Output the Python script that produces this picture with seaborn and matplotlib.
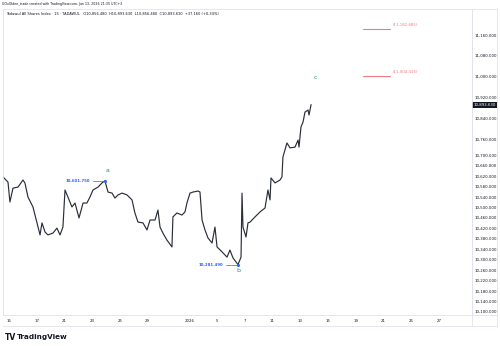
import matplotlib
matplotlib.use("Agg")
import matplotlib.pyplot as plt
import matplotlib.transforms as mtransforms
from matplotlib.lines import Line2D
import seaborn as sns
import pandas as pd

# trading-day index (0 = Dec 15 session start) and 15m close
days = [-0.43, -0.07, 0.07, 0.29, 0.65, 1.01, 1.15, 1.37, 1.73, 2.02, 2.24, 2.38,
        2.60, 2.81, 3.17, 3.46, 3.68, 3.89, 4.04, 4.25, 4.54, 4.76, 5.05, 5.34,
        5.62, 5.84, 6.06, 6.42, 6.71, 6.92, 7.14, 7.43, 7.64, 7.86, 8.15, 8.51,
        8.87, 9.08, 9.30, 9.66, 9.95, 10.17, 10.53, 10.74, 10.89, 11.10, 11.39,
        11.75, 11.82, 12.11, 12.47, 12.69, 12.83, 13.05, 13.27, 13.63, 13.77,
        13.92, 14.13, 14.35, 14.64, 14.85, 15.00, 15.36, 15.72, 15.93, 16.15,
        16.51, 16.73, 16.80, 16.87, 17.09, 17.23, 17.38, 17.74, 18.10, 18.46,
        18.67, 18.82, 18.89, 19.18, 19.54, 19.68, 19.75, 20.04, 20.26, 20.62,
        20.84, 20.91, 21.05, 21.20, 21.34, 21.56, 21.63, 21.78]
closes = [10617, 10597, 10521, 10574, 10578, 10605, 10594, 10540, 10502, 10441,
          10395, 10441, 10406, 10395, 10402, 10421, 10395, 10425, 10567, 10540,
          10502, 10517, 10460, 10517, 10517, 10540, 10567, 10578, 10594, 10601.75,
          10559, 10555, 10536, 10548, 10555, 10548, 10529, 10479, 10444, 10441,
          10414, 10452, 10452, 10490, 10425, 10402, 10375, 10349, 10464, 10479,
          10471, 10483, 10517, 10555, 10559, 10563, 10559, 10452, 10414, 10383,
          10364, 10425, 10349, 10330, 10310, 10337, 10307, 10281.49, 10310, 10555,
          10425, 10387, 10441, 10444, 10464, 10483, 10498, 10567, 10529, 10613,
          10594, 10605, 10617, 10693, 10747, 10728, 10731, 10758, 10731, 10808,
          10827, 10865, 10873, 10854, 10893.63]

date_ticks = [0, 2, 4, 6, 8, 10, 13, 15, 17, 19, 21, 23, 25, 27, 29, 31]
date_labels = ["15", "17", "21", "23", "25", "29", "2026", "5", "7", "11", "13",
               "15", "19", "21", "25", "27"]
price_ticks = [11160, 11080, 11000, 10920, 10840, 10760, 10700, 10660, 10620,
               10580, 10540, 10500, 10460, 10420, 10380, 10340, 10300, 10260,
               10220, 10180, 10140, 10100]

wave_names = ["a", "b", "c"]
wave_days = [7.14, 16.51, 22.06]
wave_text_prices = [10640, 10257, 10996]
pivot_days = [6.92, 16.51]
pivot_prices = [10601.75, 10281.49]
target_prices = [11182.685, 11004.415]
target_start, target_end = 25.5, 27.47
last_price = 10893.63

W, H = 500, 346
sns.set_theme(style="white")
plt.rcParams["font.family"] = ["DejaVu Sans"]

fig = plt.figure(figsize=(W / 100, H / 100), dpi=100)
fig.patch.set_facecolor("white")
L, R, T, B = 3, 472, 9, 315
ax = fig.add_axes([L / W, 1 - B / H, (R - L) / W, (B - T) / H])

df = pd.DataFrame({"day": days, "close": closes})
sns.lineplot(data=df, x="day", y="close", ax=ax, color="#2a2e39", lw=0.85,
             estimator=None, sort=False)

ax.set_xlim(-0.43, 33.38)
ax.set_ylim(10088.5, 11259.5)
ax.set_xlabel("")
ax.set_ylabel("")

ax.yaxis.tick_right()
ax.set_yticks(price_ticks)
ax.set_yticklabels([f"{v:,.3f}" for v in price_ticks], fontsize=2.8, color="#131722")
ax.set_xticks(date_ticks)
ax.set_xticklabels(date_labels, fontsize=2.8, color="#131722")
ax.tick_params(axis="y", length=0, pad=1.6)
ax.tick_params(axis="x", length=0, pad=2.6)
for s in ax.spines.values():
    s.set_color("#e0e3eb")
    s.set_linewidth(0.6)

blue = "#2962ff"
teal = "#1e8c7e"
pink = "#f27a86"

# wave labels
for name, d, p in zip(wave_names, wave_days, wave_text_prices):
    ax.text(d, p, name, color=teal, fontsize=4.5, ha="center", va="center")

# pivot price markers
for d, p in zip(pivot_days, pivot_prices):
    ax.plot([d - 0.85, d - 0.1], [p, p], color=blue, lw=0.5)
    ax.plot(d, p, "o", color=blue, ms=1.2)
    ax.text(d - 1.05, p, f"{p:,.3f}", color=blue, fontsize=2.8,
            ha="right", va="center", fontweight="bold")

# target lines
for p in target_prices:
    ax.plot([target_start, target_end], [p, p], color=pink, lw=0.8)
    ax.text(target_end + 0.2, p + 14, f"({p:,.3f})", color=pink, fontsize=2.8,
            ha="left", va="center")

# last price tag on the scale
trans = mtransforms.blended_transform_factory(ax.transAxes, ax.transData)
ax.text(1.003, last_price, f"{last_price:,.3f}", transform=trans, fontsize=2.8,
        color="white", ha="left", va="center",
        bbox=dict(boxstyle="square,pad=0.25", fc="#131722", ec="none"))

# pane frame: price scale column and date row
fx = lambda x: x / W
fy = lambda y: 1 - y / H
grey = "#e0e3eb"
fig.add_artist(Line2D([fx(R), fx(R)], [fy(T), fy(326)], color=grey, lw=0.6))
fig.add_artist(Line2D([fx(497), fx(497)], [fy(T), fy(326)], color=grey, lw=0.6))
fig.add_artist(Line2D([fx(L), fx(497)], [fy(326), fy(326)], color=grey, lw=0.6))
fig.add_artist(Line2D([fx(R), fx(497)], [fy(T), fy(T)], color=grey, lw=0.6))
fig.add_artist(Line2D([fx(R), fx(497)], [fy(B), fy(B)], color=grey, lw=0.6))

# header
fig.text(fx(2), fy(4), "GOxOlden_trade created with TradingView.com, Jan 13, 2026 21:35 UTC+3",
         fontsize=2.3, color="#131722", va="center")
fig.text(fx(6), fy(14), "Tadawul All Shares Index \u00b7 15 \u00b7 TADAWUL   O10,856.480  H10,893.630  "
         "L10,856.480  C10,893.630  +37.160 (+0.34%)",
         fontsize=2.6, color="#131722", va="center")

# footer logo
fig.text(fx(5), fy(337), "TV", fontsize=5.5, fontweight="heavy", color="#131722", va="center")
fig.text(fx(17), fy(337), "TradingView", fontsize=5.2, fontweight="bold", color="#131722",
         va="center")

fig.savefig("out.png", dpi=100, facecolor="white")
